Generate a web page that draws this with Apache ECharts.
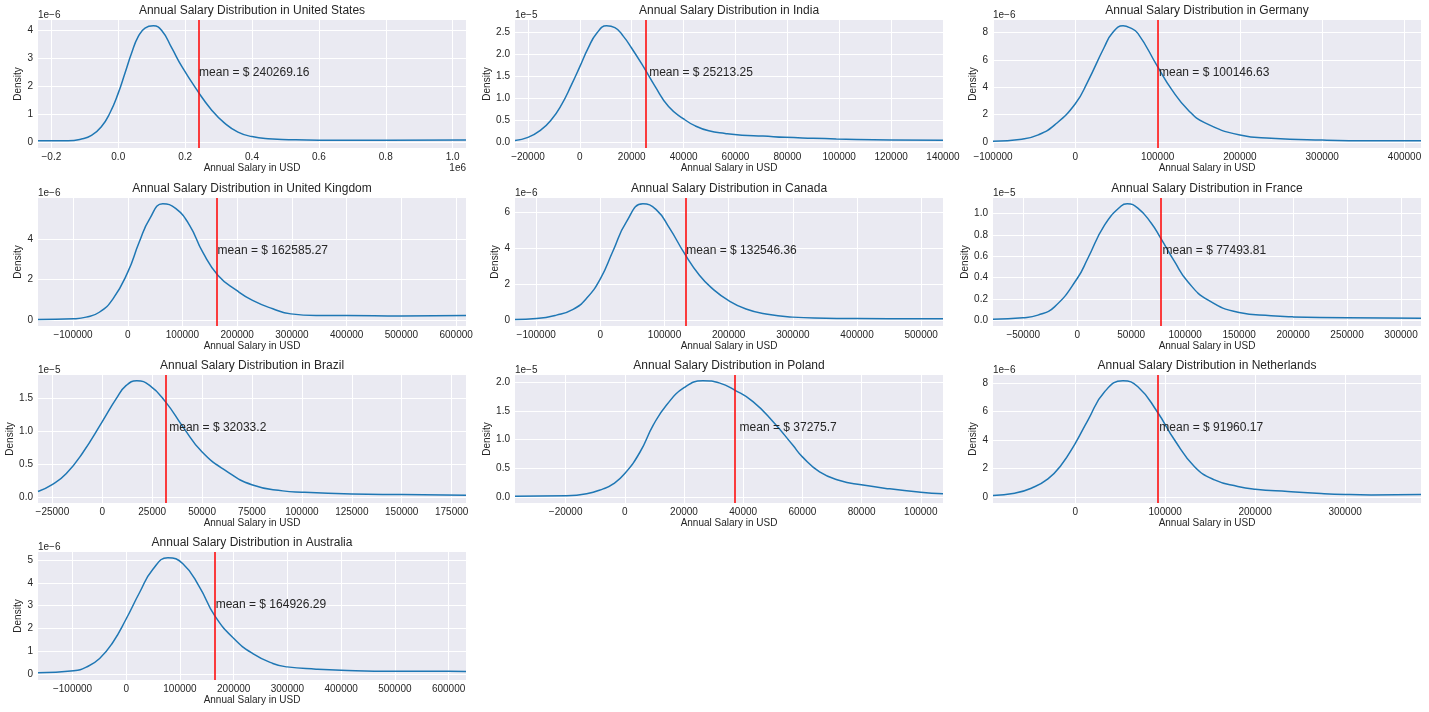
<!DOCTYPE html>
<html lang="en">
<head>
<meta charset="UTF-8">
<title>Annual Salary Distribution</title>
<script src="https://cdn.jsdelivr.net/npm/echarts@6/dist/echarts.min.js"></script>
<style>
    html, body { margin: 0; padding: 0; background: #fff; }
    #chart { width: 1429px; height: 712px; }
</style>
</head>
<body>
<div id="chart"></div>
<script>
// panels, in plotting order
const countries = ['United States', 'India', 'Germany', 'United Kingdom', 'Canada',
    'France', 'Brazil', 'Poland', 'Netherlands', 'Australia'];
const means = [240269.16, 25213.25, 100146.63, 162585.27, 132546.36,
    77493.81, 32033.2, 37275.7, 91960.17, 164926.29];
// density values are read in units of 10^yExp
const yExp = [-6, -5, -6, -6, -6, -5, -5, -5, -6, -6];

// salary (USD) / density pairs
const usSalary = [-240000, -200000, -150000, -110000, -80000, -50000, -25000, 0, 20000, 40000, 60000, 80000, 105000, 130000, 160000, 190000, 237000, 279000, 318000, 358000, 400000, 448000, 490000, 600000, 800000, 1040000];
const usDensity = [0.05, 0.05, 0.05, 0.11, 0.24, 0.56, 1.04, 1.75, 2.46, 3.18, 3.77, 4.07, 4.15, 3.98, 3.36, 2.7, 1.83, 1.15, 0.68, 0.36, 0.2, 0.12, 0.1, 0.07, 0.07, 0.08];

const inSalary = [-25000, -20000, -15000, -11000, -7100, -3200, 0, 3200, 6500, 10300, 13500, 16800, 20000, 24500, 29000, 34200, 40000, 44500, 49700, 56000, 62500, 70600, 79100, 89900, 98900, 120000, 140000];
const inDensity = [0.04, 0.11, 0.28, 0.51, 0.85, 1.31, 1.72, 2.14, 2.48, 2.65, 2.61, 2.41, 2.14, 1.72, 1.27, 0.81, 0.53, 0.37, 0.26, 0.2, 0.16, 0.14, 0.11, 0.09, 0.075, 0.05, 0.045];

const deSalary = [-100000, -65000, -45000, -25000, 0, 15000, 35000, 45000, 58000, 66000, 76000, 100000, 117000, 137000, 157000, 200000, 238000, 300000, 360000, 420000];
const deDensity = [0.07, 0.22, 0.53, 1.26, 2.8, 4.4, 6.9, 7.95, 8.48, 8.35, 7.93, 5.5, 3.85, 2.35, 1.42, 0.53, 0.29, 0.15, 0.1, 0.1];

const ukSalary = [-164000, -99000, -76000, -52000, -27000, 0, 21000, 40000, 64000, 88000, 113000, 137000, 165000, 199000, 228000, 265000, 298000, 344000, 400000, 500000, 618000];
const ukDensity = [0.03, 0.07, 0.15, 0.39, 1.05, 2.36, 3.84, 4.98, 5.72, 5.48, 4.66, 3.34, 2.2, 1.46, 0.97, 0.56, 0.31, 0.23, 0.23, 0.21, 0.23];

const caSalary = [-133000, -99500, -68400, -42500, -21800, 0, 19700, 40400, 66300, 87000, 107800, 131100, 154400, 175100, 200000, 227000, 258000, 299500, 351000, 400000, 499000, 534000];
const caDensity = [0.04, 0.09, 0.28, 0.6, 1.2, 2.3, 3.85, 5.45, 6.47, 6.15, 5.12, 3.71, 2.5, 1.74, 1.09, 0.62, 0.34, 0.17, 0.11, 0.09, 0.075, 0.075];

const frSalary = [-78000, -50300, -36400, -21000, 0, 9900, 25300, 40700, 46300, 56200, 68500, 77200, 90100, 102500, 121000, 150000, 179600, 199700, 250000, 318500];
const frDensity = [0.009, 0.022, 0.047, 0.125, 0.39, 0.58, 0.89, 1.07, 1.09, 1.05, 0.91, 0.77, 0.55, 0.36, 0.19, 0.072, 0.041, 0.031, 0.022, 0.019];

const brSalary = [-32200, -24700, -18000, -9700, 0, 7000, 12000, 17300, 23700, 31700, 40400, 49900, 62000, 74900, 90400, 99900, 124900, 149900, 182200];
const brDensity = [0.086, 0.2, 0.36, 0.68, 1.15, 1.5, 1.7, 1.77, 1.70, 1.45, 1.07, 0.69, 0.4, 0.19, 0.096, 0.076, 0.05, 0.04, 0.03];

const plSalary = [-37100, -19900, -12900, -7300, -3900, 0, 5100, 9600, 14100, 20000, 26400, 32100, 37100, 43300, 50100, 56800, 60000, 65800, 72600, 79900, 89500, 99900, 107500];
const plDensity = [0.017, 0.023, 0.058, 0.145, 0.23, 0.41, 0.78, 1.25, 1.6, 1.9, 2.02, 1.98, 1.86, 1.66, 1.31, 0.9, 0.7, 0.44, 0.29, 0.215, 0.145, 0.087, 0.058];

const nlSalary = [-91500, -67400, -48900, -30400, -15600, 0, 14100, 32600, 53000, 69600, 91100, 110400, 132600, 154800, 180700, 200000, 236300, 273300, 300000, 328900, 384400];
const nlDensity = [0.12, 0.28, 0.63, 1.28, 2.26, 3.78, 5.41, 7.39, 8.16, 7.74, 5.99, 4.01, 2.14, 1.21, 0.75, 0.56, 0.4, 0.26, 0.19, 0.16, 0.19];

const auSalary = [-164300, -98000, -74400, -49600, -24800, 0, 24800, 49600, 77500, 105400, 136400, 164300, 200200, 235600, 272800, 299400, 353400, 399900, 499700, 600100, 632400];
const auDensity = [0.06, 0.15, 0.31, 0.69, 1.4, 2.43, 3.58, 4.6, 5.1, 4.84, 3.82, 2.58, 1.56, 0.9, 0.47, 0.32, 0.22, 0.17, 0.13, 0.13, 0.12];

const salaries = [usSalary, inSalary, deSalary, ukSalary, caSalary, frSalary, brSalary, plSalary, nlSalary, auSalary];
const densities = [usDensity, inDensity, deDensity, ukDensity, caDensity, frDensity, brDensity, plDensity, nlDensity, auDensity];

// tick positions
const xTicks = [
    [-200000, 0, 200000, 400000, 600000, 800000, 1000000],
    [-20000, 0, 20000, 40000, 60000, 80000, 100000, 120000, 140000],
    [-100000, 0, 100000, 200000, 300000, 400000],
    [-100000, 0, 100000, 200000, 300000, 400000, 500000, 600000],
    [-100000, 0, 100000, 200000, 300000, 400000, 500000],
    [-50000, 0, 50000, 100000, 150000, 200000, 250000, 300000],
    [-25000, 0, 25000, 50000, 75000, 100000, 125000, 150000, 175000],
    [-20000, 0, 20000, 40000, 60000, 80000, 100000],
    [0, 100000, 200000, 300000],
    [-100000, 0, 100000, 200000, 300000, 400000, 500000, 600000]
];
const yTicks = [
    [0, 1, 2, 3, 4],
    [0, 0.5, 1, 1.5, 2, 2.5],
    [0, 2, 4, 6, 8],
    [0, 2, 4],
    [0, 2, 4, 6],
    [0, 0.2, 0.4, 0.6, 0.8, 1],
    [0, 0.5, 1, 1.5],
    [0, 0.5, 1, 1.5, 2],
    [0, 2, 4, 6, 8],
    [0, 1, 2, 3, 4, 5]
];

const TEXT = '#262626';
const colLeft = [38, 515, 993];
const rowTop = [20, 198, 375, 552];
const W = 428, H = 128;

function minus(s) {
    return s.replace('-', '\u2212');
}

let grids = [], xAxes = [], yAxes = [], series = [], graphics = [];
countries.forEach(function (name, i) {
    const left = colLeft[i % 3], top = rowTop[Math.floor(i / 3)];
    const xs = salaries[i], ys = densities[i];
    const peak = Math.max.apply(null, ys);
    const decimals = yExp[i] === -5 ? 1 : 0;
    grids.push({left: left, top: top, width: W, height: H, show: true,
        backgroundColor: '#EAEAF2', borderWidth: 0});
    xAxes.push({
        type: 'value', gridIndex: i, min: xs[0], max: xs[xs.length - 1],
        name: 'Annual Salary in USD', nameLocation: 'middle', nameGap: 15,
        nameTextStyle: {fontSize: 10, color: TEXT},
        axisLine: {show: false},
        axisTick: {show: false, customValues: xTicks[i]},
        axisLabel: {
            customValues: xTicks[i], fontSize: 10, color: TEXT, margin: 4,
            formatter: function (v) {
                return minus(i === 0 ? (v / 1e6).toFixed(1) : String(Math.round(v)));
            }
        },
        splitLine: {show: true, lineStyle: {color: '#fff', width: 1}}
    });
    yAxes.push({
        type: 'value', gridIndex: i, min: -0.05 * peak, max: 1.05 * peak,
        name: 'Density', nameLocation: 'middle', nameGap: decimals ? 20 : 11,
        nameTextStyle: {fontSize: 10, color: TEXT},
        axisLine: {show: false},
        axisTick: {show: false, customValues: yTicks[i]},
        axisLabel: {
            customValues: yTicks[i], fontSize: 10, color: TEXT, margin: 5,
            formatter: function (v) { return v.toFixed(decimals); }
        },
        splitLine: {show: true, lineStyle: {color: '#fff', width: 1}}
    });
    series.push({
        type: 'line', xAxisIndex: i, yAxisIndex: i,
        data: xs.map(function (x, k) { return [x, ys[k]]; }),
        showSymbol: false, smooth: 0.5, silent: true,
        lineStyle: {color: '#1f77b4', width: 1.5},
        markLine: {
            silent: true, symbol: ['none', 'none'], label: {show: false},
            lineStyle: {color: '#ff0000', width: 1.5, type: 'solid'},
            data: [{xAxis: means[i]}]
        },
        markPoint: {
            silent: true, symbol: 'circle', symbolSize: 0,
            label: {show: true, position: 'right', distance: 0, fontSize: 12, color: TEXT,
                formatter: 'mean = $ ' + means[i]},
            data: [{coord: [means[i] + 1500, 0.6 * peak]}]
        }
    });
    graphics.push({
        type: 'text', x: left + W / 2, y: top - 9,
        style: {text: 'Annual Salary Distribution in ' + name, fontSize: 12, fill: TEXT,
            textAlign: 'center', textVerticalAlign: 'middle', align: 'center', verticalAlign: 'middle'}
    });
    graphics.push({
        type: 'text', x: left, y: top - 5,
        style: {text: '1e' + minus(String(yExp[i])), fontSize: 10, fill: TEXT,
            textAlign: 'left', textVerticalAlign: 'middle', align: 'left', verticalAlign: 'middle'}
    });
    if (i === 0) {
        graphics.push({
            type: 'text', x: left + W, y: top + H + 20,
            style: {text: '1e6', fontSize: 10, fill: TEXT,
                textAlign: 'right', textVerticalAlign: 'middle', align: 'right', verticalAlign: 'middle'}
        });
    }
});

const chart = echarts.init(document.getElementById('chart'));
chart.setOption({
    animation: false,
    backgroundColor: '#fff',
    textStyle: {fontFamily: 'Liberation Sans, Arial, sans-serif'},
    grid: grids,
    xAxis: xAxes,
    yAxis: yAxes,
    series: series,
    graphic: graphics
});
</script>
</body>
</html>
